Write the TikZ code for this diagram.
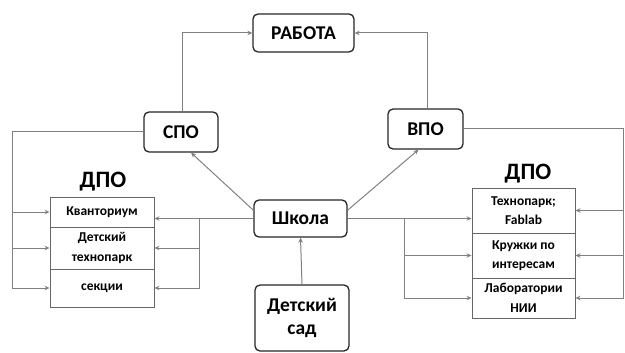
\documentclass[tikz,border=0pt]{standalone}
\usepackage{fontspec}
\setmainfont{Carlito}
\usetikzlibrary{arrows.meta}
\begin{document}
\begin{tikzpicture}[x=1pt,y=-1pt,
  mainbox/.style={draw=black!85,line width=1.3pt,rounded corners=5pt,fill=white,
    font=\fontsize{19.5}{23}\selectfont\bfseries,align=center,inner sep=0pt},
  cell/.style={draw=black!60,line width=0.9pt,minimum width=104pt,inner sep=0pt,
    font=\fontsize{13.5}{19.5}\selectfont\bfseries,align=center},
  title/.style={font=\fontsize{23.5}{26}\selectfont\bfseries},
  conn/.style={draw=black!50,line width=1pt},
  arr/.style={conn,-{Stealth[length=5pt,width=4.5pt]}}]
\useasboundingbox (0,0) rectangle (625,353);
% main boxes
\node[mainbox,minimum width=101pt,minimum height=38pt] (rabota) at (303.5,33) {РАБОТА};
\node[mainbox,minimum width=74pt,minimum height=40pt] (spo) at (181,132) {СПО};
\node[mainbox,minimum width=75pt,minimum height=40pt] (vpo) at (425.5,129) {ВПО};
\node[mainbox,minimum width=93pt,minimum height=37pt] (shkola) at (300.5,218.5) {Школа};
\node[mainbox,minimum width=94pt,minimum height=66pt] (sad) at (302,318) {Детский\\сад};
% left table
\node[title] (dpoL) at (103,182) {ДПО};
\node[cell,minimum height=30pt] (k1) at (102,212) {Кванториум};
\node[cell,minimum height=42pt] (k2) at (102,248) {Детский\\технопарк};
\node[cell,minimum height=38pt] (k3) at (102,288) {секции};
% right table
\node[title] (dpoR) at (528,174) {ДПО};
\node[cell,minimum width=103pt,minimum height=45pt] (t1) at (523.5,210.5) {Технопарк;\\Fablab};
\node[cell,minimum width=103pt,minimum height=45pt] (t2) at (523.5,255.5) {Кружки по\\интересам};
\node[cell,minimum width=103pt,minimum height=40pt] (t3) at (523.5,298) {Лаборатории\\НИИ};
% connectors to РАБОТА
\draw[arr] ([xshift=1pt]spo.north) |- (rabota.west);
\draw[arr] ([xshift=1.5pt]vpo.north) |- (rabota.east);
% Школа to СПО / ВПО
\draw[arr] (shkola.170) -- ([xshift=10pt]spo.south);
\draw[arr] (shkola.10) -- ([xshift=-7pt]vpo.south);
% Детский сад to Школа
\draw[arr] (sad.north) -- (shkola.south);
% left outer bracket from СПО
\coordinate (L) at (12,132);
\draw[conn] (spo.west) -- (L);
\draw[arr] (L) |- (k1.west);
\draw[arr] (L) |- (k2.west);
\draw[arr] (L) |- (k3.west);
% Школа to left table
\coordinate (B) at (199,218.5);
\draw[arr] (shkola.west) -- (shkola.west -| k1.east);
\draw[arr] (B) |- (k2.east);
\draw[arr] (B) |- (k3.east);
% Школа to right table
\coordinate (C) at (404,218.5);
\draw[arr] (shkola.east) -- (shkola.east -| t1.west);
\draw[arr] (C) |- (t2.west);
\draw[arr] (C) |- (t3.west);
% right outer bracket from ВПО
\coordinate (R) at (623.5,129);
\draw[conn] (vpo.east) -- (R);
\draw[arr] (R) |- (t1.east);
\draw[arr] (R) |- (t2.east);
\draw[arr] (R) |- (t3.east);
\end{tikzpicture}
\end{document}
